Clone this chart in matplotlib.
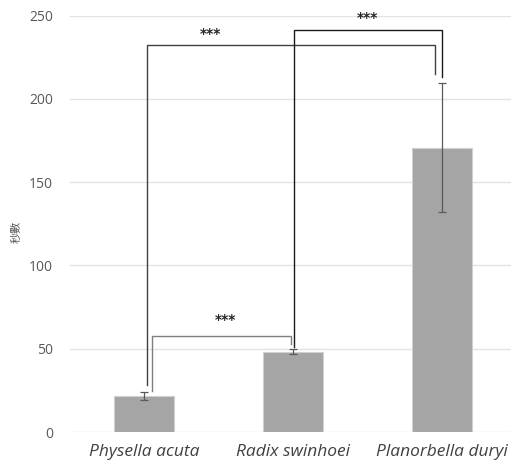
import matplotlib
matplotlib.use("Agg")
import matplotlib.pyplot as plt

categories = ["Physella acuta", "Radix swinhoei", "Planorbella duryi"]
means = [21.6, 48.2, 170.8]
errors = [2.4, 1.5, 38.5]
y_ticks = [0, 50, 100, 150, 200, 250]
y_label = "秒數"

# significance brackets: (x_left, y_left_bottom, x_right, y_right_bottom, y_top, label_x, label_y, color)
brackets = [
    (0.054, 24.6, 0.989, 52.8, 57.8, 0.544, 63.0, "#7f7f7f"),
    (0.022, 28.2, 1.953, 215.2, 232.6, 0.443, 235.0, "#404040"),
    (1.008, 51.2, 2.002, 213.1, 241.6, 1.497, 244.5, "#1a1a1a"),
]
sig_label = "***"

W, H = 511, 463
fig = plt.figure(figsize=(W / 100, H / 100), dpi=100)
left_px, right_px = 69.5, 516.5
top_px, bottom_px = 15.7, 432.0
ax = fig.add_axes([left_px / W, 1 - bottom_px / H, (right_px - left_px) / W, (bottom_px - top_px) / H])

x = list(range(len(categories)))
ax.bar(x, means, width=0.4, color="#a5a5a5", edgecolor="#d0d0d0", linewidth=0.8, zorder=2)
ax.errorbar(x, means, yerr=errors, fmt="none", ecolor="#595959", elinewidth=0.9,
            capsize=3, capthick=0.9, zorder=3)

for xl, yl, xr, yr, yt, lx, ly, c in brackets:
    ax.plot([xl, xl, xr, xr], [yl, yt, yt, yr], color=c, lw=1.0, zorder=4,
            solid_joinstyle="miter")
    ax.text(lx, ly, sig_label, ha="center", va="bottom", fontsize=10, fontweight="bold",
            color="#262626", family="DejaVu Sans", zorder=5)

ax.set_xlim(-0.5, 2.5)
ax.set_ylim(0, 250)
ax.set_yticks(y_ticks)
ax.set_yticklabels([str(v) for v in y_ticks], fontsize=10, color="#595959", family="Open Sans")
ax.set_xticks(x)
ax.set_xticklabels(categories, fontsize=12.5, style="italic", color="#404040", family="Open Sans")
ax.tick_params(axis="both", length=0)
ax.tick_params(axis="y", pad=12)
ax.tick_params(axis="x", pad=9)
ax.grid(axis="y", color="#e3e3e3", lw=1.0, zorder=0)
for s in ax.spines.values():
    s.set_visible(False)

fig.text(17 / W, 1 - 232 / H, y_label, rotation=90, ha="center", va="center", fontsize=8,
         color="#595959", family=["Noto Sans CJK TC", "DejaVu Sans"])

fig.savefig("out.png", dpi=100, facecolor="white")
